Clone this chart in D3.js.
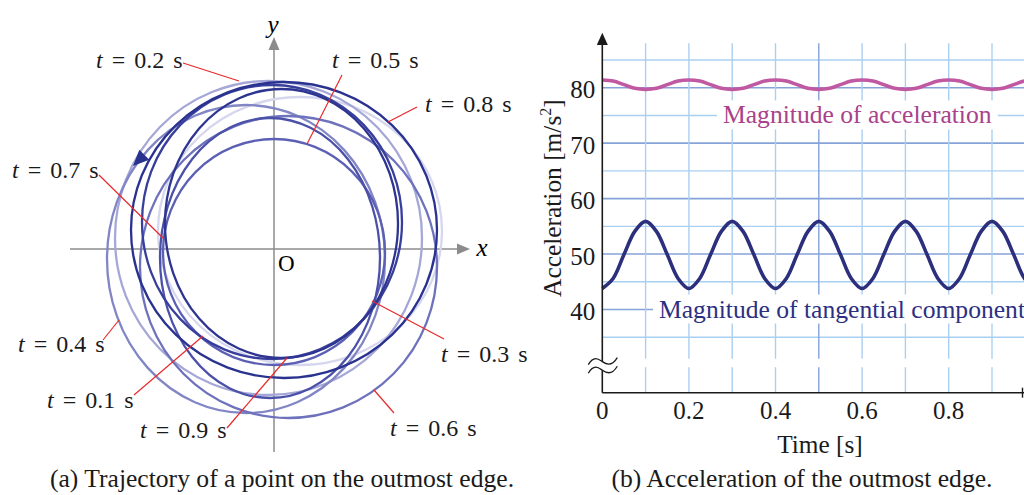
<!DOCTYPE html>
<html>
<head>
<meta charset="utf-8">
<script src="https://cdn.jsdelivr.net/npm/d3@7"></script>
<style>
  body { margin: 0; background: #fff; }
  text { font-family: "Liberation Serif", "Times New Roman", serif; }
</style>
</head>
<body>
<svg id="chart" width="1024" height="495"></svg>
<script>
// ---- (a) trajectory loops, one per labelled time (units: arbitrary, origin O)
const loopTimes = [0.1, 0.2, 0.3, 0.4, 0.5, 0.6, 0.7, 0.8, 0.9]
const loopCx = [0.26, -0.055, 0.075, -0.28, 0.0, 0.145, -0.04, 0.10, -0.02]
const loopCy = [0.18, 0.11, 0.255, -0.10, -0.03, -0.18, -0.09, 0.19, 0.27]
const loopRx = [1.42, 1.535, 1.165, 1.39, 1.11, 1.485, 1.10, 1.53, 1.30]
const loopRy = [1.34, 1.57, 1.345, 1.54, 1.13, 1.51, 1.40, 1.48, 1.37]

// label anchor (left edge, centre line) and leader line end points
const labelX = [-2.27, -1.78, 1.67, -2.56, 0.58, 1.16, -2.62, 1.51, -1.34]
const labelY = [-1.51, 1.89, -1.05, -0.95, 1.89, -1.79, 0.79, 1.45, -1.81]
const leadX1 = [-1.40, -0.91, 1.70, -1.71, 0.68, 1.20, -1.75, 1.43, -0.47]
const leadY1 = [-1.46, 1.86, -0.90, -0.91, 1.74, -1.64, 0.74, 1.42, -1.79]
const leadX2 = [-0.71, -0.35, 0.98, -1.55, 0.33, 1.00, -1.11, 1.14, 0.13]
const leadY2 = [-0.87, 1.68, -0.52, -0.71, 1.05, -1.41, 0.11, 1.27, -1.09]

// direction of motion: arrow tip and the point it comes from
const arrowTip = [-1.41, 0.83]
const arrowFrom = [-1.31, 0.93]

// ---- (b) acceleration over time
const timeS = [0, 0.025, 0.05, 0.075, 0.1, 0.125, 0.15, 0.175, 0.2, 0.225, 0.25, 0.275, 0.3,
  0.325, 0.35, 0.375, 0.4, 0.425, 0.45, 0.475, 0.5, 0.525, 0.55, 0.575, 0.6, 0.625, 0.65,
  0.675, 0.7, 0.725, 0.75, 0.775, 0.8, 0.825, 0.85, 0.875, 0.9, 0.925, 0.95, 0.975, 1.0]
const accelMagnitude = [81.4, 81.2, 80.55, 79.9, 79.7, 79.9, 80.55, 81.2, 81.4, 81.2, 80.55,
  79.9, 79.7, 79.9, 80.55, 81.2, 81.4, 81.2, 80.55, 79.9, 79.7, 79.9, 80.55, 81.2, 81.4, 81.2,
  80.55, 79.9, 79.7, 79.9, 80.55, 81.2, 81.4, 81.2, 80.55, 79.9, 79.7, 79.9, 80.55, 81.2, 81.4]
const accelTangential = [43.8, 45.6, 49.9, 54.1, 55.9, 54.1, 49.9, 45.6, 43.8, 45.6, 49.9,
  54.1, 55.9, 54.1, 49.9, 45.6, 43.8, 45.6, 49.9, 54.1, 55.9, 54.1, 49.9, 45.6, 43.8, 45.6,
  49.9, 54.1, 55.9, 54.1, 49.9, 45.6, 43.8, 45.6, 49.9, 54.1, 55.9, 54.1, 49.9, 45.6, 43.8]
const accelTicks = [40, 50, 60, 70, 80]
const timeTicks = [0, 0.2, 0.4, 0.6, 0.8]
const gridAccel = [35, 40, 45, 50, 55, 60, 65, 70, 75, 80, 85]
const gridTime = [0.1, 0.2, 0.3, 0.4, 0.5, 0.6, 0.7, 0.8, 0.9, 1.0]

// Shades of each loop
const loopColor = {
  0.1: '#d6d7ee', 0.2: '#a5a7d7', 0.3: '#2d3591', 0.4: '#8286c5', 0.5: '#5c60b4',
  0.6: '#6e72bc', 0.7: '#4b50a8', 0.8: '#2a3290', 0.9: '#383e9c',
}

const svg = d3.select('#chart')
svg.append('rect').attr('width', 1024).attr('height', 495).attr('fill', '#fff')

// ================= (a) =================
const lx = d3.scaleLinear().domain([-2.04, 1.96]).range([70, 470])
const ly = d3.scaleLinear().domain([-2.03, 2.12]).range([452, 37])
const axisGrey = '#8c8c8c'
const left = svg.append('g')

left.append('line')
  .attr('x1', lx(-2.04)).attr('x2', lx(1.85)).attr('y1', ly(0)).attr('y2', ly(0))
  .attr('stroke', axisGrey).attr('stroke-width', 1.5)
left.append('line')
  .attr('x1', lx(0)).attr('x2', lx(0)).attr('y1', ly(-2.03)).attr('y2', ly(2.0))
  .attr('stroke', axisGrey).attr('stroke-width', 1.5)
// axis arrow heads
left.append('path')
  .attr('d', `M${lx(1.96)},${ly(0)} L${lx(1.83)},${ly(0) - 5.5} L${lx(1.83)},${ly(0) + 5.5}Z`)
  .attr('fill', axisGrey)
left.append('path')
  .attr('d', `M${lx(0)},${ly(2.12)} L${lx(0) - 5.5},${ly(1.99)} L${lx(0) + 5.5},${ly(1.99)}Z`)
  .attr('fill', axisGrey)

left.append('text').attr('x', lx(2.08)).attr('y', ly(0) + 7)
  .attr('font-size', 25).attr('font-style', 'italic').attr('text-anchor', 'middle').text('x')
left.append('text').attr('x', lx(-0.01)).attr('y', ly(2.23) + 7)
  .attr('font-size', 25).attr('font-style', 'italic').attr('text-anchor', 'middle').text('y')
left.append('text').attr('x', lx(0.04)).attr('y', ly(-0.22))
  .attr('font-size', 23).text('O')

// loops, lightest drawn first so the dark ones sit on top
const loops = loopTimes.map((t, i) => ({
  t, cx: loopCx[i], cy: loopCy[i], rx: loopRx[i], ry: loopRy[i],
}))
const lum = (t) => d3.hsl(loopColor[t]).l
left.append('g').selectAll('ellipse')
  .data(loops.slice().sort((a, b) => lum(b.t) - lum(a.t)))
  .join('ellipse')
  .attr('cx', (d) => lx(d.cx))
  .attr('cy', (d) => ly(d.cy))
  .attr('rx', (d) => lx(d.rx) - lx(0))
  .attr('ry', (d) => ly(0) - ly(d.ry))
  .attr('fill', 'none')
  .attr('stroke', (d) => loopColor[d.t])
  .attr('stroke-width', 2.3)

// direction arrow on the outer dark loop
{
  const tipX = lx(arrowTip[0]), tipY = ly(arrowTip[1])
  const fx = lx(arrowFrom[0]), fy = ly(arrowFrom[1])
  const len = Math.hypot(tipX - fx, tipY - fy)
  const ux = (tipX - fx) / len, uy = (tipY - fy) / len
  const bx = tipX - ux * 16, by = tipY - uy * 16
  left.append('path')
    .attr('d', `M${tipX},${tipY} L${bx - uy * 7},${by + ux * 7} L${bx + uy * 7},${by - ux * 7}Z`)
    .attr('fill', '#2a3290')
}

// leaders and labels
const labels = loopTimes.map((t, i) => ({
  t, x: labelX[i], y: labelY[i], x1: leadX1[i], y1: leadY1[i], x2: leadX2[i], y2: leadY2[i],
}))
left.append('g').selectAll('line')
  .data(labels)
  .join('line')
  .attr('x1', (d) => lx(d.x1)).attr('y1', (d) => ly(d.y1))
  .attr('x2', (d) => lx(d.x2)).attr('y2', (d) => ly(d.y2))
  .attr('stroke', '#e8292b').attr('stroke-width', 1.2)

const labelText = left.append('g').selectAll('text')
  .data(labels)
  .join('text')
  .attr('x', (d) => lx(d.x))
  .attr('y', (d) => ly(d.y) + 8)
  .attr('font-size', 24)
  .attr('word-spacing', 3)
  .attr('fill', '#1a1a1a')
labelText.append('tspan').attr('font-style', 'italic').text('t')
labelText.append('tspan').text((d) => ` = ${d.t} s`)

left.append('text').attr('x', 282).attr('y', 487).attr('text-anchor', 'middle')
  .attr('font-size', 25.6).attr('fill', '#1a1a1a')
  .text('(a) Trajectory of a point on the outmost edge.')

// ================= (b) =================
const tx = d3.scaleLinear().domain([0, 1]).range([602.3, 1035.3])
const ay = d3.scaleLinear().domain([25, 80]).range([392.7, 87.7])
const right = svg.append('g')

const gridLight = '#aad0f1'
const gridDark = '#86a3d8'
const breakLow = 29.6
const breakHigh = 31.1

// horizontal grid
right.append('g').selectAll('line')
  .data(gridAccel)
  .join('line')
  .attr('x1', tx(0)).attr('x2', 1024)
  .attr('y1', (d) => ay(d)).attr('y2', (d) => ay(d))
  .attr('stroke', (d) => (d % 10 === 0 ? gridDark : gridLight))
  .attr('stroke-width', (d) => (d % 10 === 0 ? 1.6 : 1.4))

// vertical grid, broken where the axis is broken
const vGrid = right.append('g')
vGrid.selectAll('line.top')
  .data(gridTime)
  .join('line')
  .attr('class', 'top')
  .attr('x1', (d) => tx(d)).attr('x2', (d) => tx(d))
  .attr('y1', ay(88)).attr('y2', ay(breakHigh))
  .attr('stroke', (d) => (d === 0.5 ? gridDark : gridLight)).attr('stroke-width', 1.4)
vGrid.selectAll('line.bot')
  .data(gridTime)
  .join('line')
  .attr('class', 'bot')
  .attr('x1', (d) => tx(d)).attr('x2', (d) => tx(d))
  .attr('y1', ay(breakLow)).attr('y2', ay(25))
  .attr('stroke', (d) => (d === 0.5 ? gridDark : gridLight)).attr('stroke-width', 1.4)

// series
const accelMagData = timeS.map((t, i) => ({ t, v: accelMagnitude[i] }))
const accelTanData = timeS.map((t, i) => ({ t, v: accelTangential[i] }))
const line = d3.line().x((d) => tx(d.t)).y((d) => ay(d.v)).curve(d3.curveCatmullRom)

right.append('path').datum(accelMagData)
  .attr('d', line).attr('fill', 'none')
  .attr('stroke', '#c158a2').attr('stroke-width', 3.6)
right.append('path').datum(accelTanData)
  .attr('d', line).attr('fill', 'none')
  .attr('stroke', '#2b2f7c').attr('stroke-width', 3.6)

// series labels on white backing
const seriesLabel = (text, t, v, color) => {
  const g = right.append('g')
  const txt = g.append('text')
    .attr('x', tx(t)).attr('y', ay(v) + 8)
    .attr('font-size', 25.6)
    .attr('fill', color).text(text)
  const bb = txt.node().getBBox()
  g.insert('rect', 'text')
    .attr('x', bb.x - 6).attr('y', bb.y).attr('width', bb.width + 12).attr('height', bb.height)
    .attr('fill', '#fff')
}
seriesLabel('Magnitude of acceleration', 0.2787, 75, '#a8428b')
seriesLabel('Magnitude of tangential component', 0.1309, 40, '#2c3082')

// axes
right.append('line')
  .attr('x1', tx(0)).attr('x2', 1024).attr('y1', ay(25)).attr('y2', ay(25))
  .attr('stroke', '#1a1a1a').attr('stroke-width', 1.6)
right.append('line')
  .attr('x1', 1022.5).attr('x2', 1022.5).attr('y1', ay(25) - 5).attr('y2', ay(25) + 5)
  .attr('stroke', '#1a1a1a').attr('stroke-width', 1.4)
right.append('line')
  .attr('x1', tx(0)).attr('x2', tx(0)).attr('y1', ay(25)).attr('y2', ay(88.2))
  .attr('stroke', '#1a1a1a').attr('stroke-width', 1.6)
right.append('path')
  .attr('d', `M${tx(0)},${ay(89.9)} L${tx(0) - 5.5},${ay(87.7)} L${tx(0) + 5.5},${ay(87.7)}Z`)
  .attr('fill', '#1a1a1a')

// axis break mark
const wave = (v) => {
  const y = ay(v)
  const x0 = tx(0) - 14
  return `M${x0},${y + 3} C${x0 + 6},${y - 7} ${x0 + 11},${y - 2} ${x0 + 14},${y}` +
    ` S${x0 + 23},${y + 6} ${x0 + 29},${y - 4}`
}
right.append('rect')
  .attr('x', tx(0) - 4).attr('y', ay(30.6)).attr('width', 8).attr('height', ay(29.05) - ay(30.6))
  .attr('fill', '#fff')
right.selectAll('path.brk')
  .data([30.6, 29.05])
  .join('path')
  .attr('class', 'brk')
  .attr('d', (d) => wave(d))
  .attr('fill', 'none').attr('stroke', '#1a1a1a').attr('stroke-width', 1.3)

// ticks
right.append('g').selectAll('text')
  .data(accelTicks)
  .join('text')
  .attr('x', tx(0) - 7).attr('y', (d) => ay(d) + 10.5)
  .attr('text-anchor', 'end').attr('font-size', 25).attr('fill', '#1a1a1a')
  .text((d) => d)
right.append('g').selectAll('text')
  .data(timeTicks)
  .join('text')
  .attr('x', (d) => tx(d)).attr('y', 418.5)
  .attr('text-anchor', 'middle').attr('font-size', 25).attr('fill', '#1a1a1a')
  .text((d) => d)

const yTitle = right.append('text')
  .attr('transform', `translate(561,${ay(60.1)}) rotate(-90)`)
  .attr('text-anchor', 'middle').attr('font-size', 25.4).attr('fill', '#1a1a1a')
yTitle.append('tspan').text('Acceleration [m/s')
yTitle.append('tspan').attr('font-size', 16).attr('dy', -10).text('2')
yTitle.append('tspan').attr('dy', 10).text(']')

right.append('text').attr('x', 820).attr('y', 453).attr('text-anchor', 'middle')
  .attr('font-size', 25.3).attr('fill', '#1a1a1a').text('Time [s]')
right.append('text').attr('x', 802).attr('y', 487).attr('text-anchor', 'middle')
  .attr('font-size', 25.6).attr('fill', '#1a1a1a').text('(b) Acceleration of the outmost edge.')
</script>
</body>
</html>
